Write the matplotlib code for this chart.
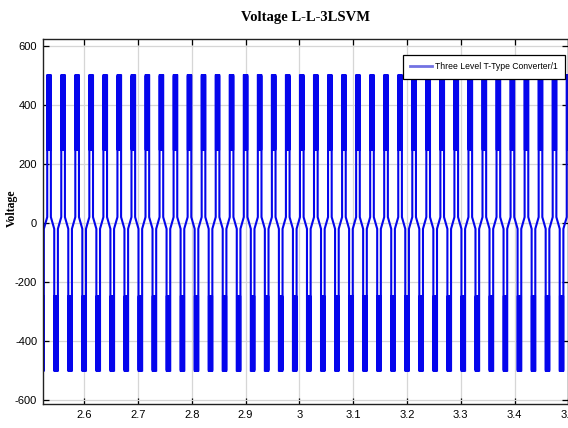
import numpy as np
import matplotlib
matplotlib.use("Agg")
import matplotlib.pyplot as plt
from matplotlib import font_manager

# ---------------- data ----------------
title_text = "Voltage L-L-3LSVM"
y_label = "Voltage"
legend_label = "Three Level T-Type Converter/1"

x_ticks = [2.6, 2.7, 2.8, 2.9, 3.0, 3.1, 3.2, 3.3, 3.4, 3.5]
x_tick_labels = ["2.6", "2.7", "2.8", "2.9", "3", "3.1", "3.2", "3.3", "3.4", "3.5"]
y_ticks = [600, 400, 200, 0, -200, -400, -600]
y_tick_labels = ["600", "400", "200", "0", "-200", "-400", "-600"]

# one fundamental period of the line-to-line voltage as (time in ms, volts)
# vertices, measured from the start of the positive pulse
period_ms = 26.1
period_t_ms = [0.0, 0.0,
               0.0, 0.45, 0.45, 0.9, 0.9, 1.35, 1.35, 1.8, 1.8, 2.25, 2.25, 2.7, 2.7,
               3.15, 3.15, 3.6, 3.6, 4.05, 4.05, 4.5, 4.5, 4.95, 4.95, 5.4, 5.4, 5.85, 5.85,
               6.3, 6.3, 6.8, 6.8,
               13.05, 13.05,
               13.05, 13.5, 13.5, 13.95, 13.95, 14.4, 14.4, 14.85, 14.85, 15.3, 15.3, 15.75, 15.75,
               16.2, 16.2, 16.65, 16.65, 17.1, 17.1, 17.55, 17.55, 18.0, 18.0, 18.45, 18.45,
               18.9, 18.9, 19.35, 19.35, 19.85, 19.85]
period_v = [20, 250,
            500, 500, 250, 250, 500, 500, 250, 250, 500, 500, 250, 250, 500,
            500, 250, 250, 500, 500, 250, 250, 500, 500, 250, 250, 500, 500, 250,
            250, 500, 500, 20,
            -20, -250,
            -500, -500, -250, -250, -500, -500, -250, -250, -500, -500, -250, -250, -500,
            -500, -250, -250, -500, -500, -250, -250, -500, -500, -250, -250, -500,
            -500, -250, -250, -500, -500, -20]
first_pulse_s = 2.5053   # start of the first positive pulse drawn (just left of the axes)
n_periods = 40
x_range = (2.523, 3.5)
y_range = (-614, 624)

# ---------------- build waveform from the repeated period ----------------
starts = first_pulse_s + np.arange(n_periods) * period_ms / 1000.0
t = (starts[:, None] + np.asarray(period_t_ms)[None, :] / 1000.0).ravel()
v = np.tile(np.asarray(period_v, dtype=float), n_periods)

# ---------------- fonts ----------------
avail = {f.name for f in font_manager.fontManager.ttflist}
narrow = "Liberation Sans Narrow" if "Liberation Sans Narrow" in avail else "Liberation Sans"
serif = "Liberation Serif"

# ---------------- figure ----------------
fig = plt.figure(figsize=(5.68, 4.28), dpi=100)
W, H = 568.0, 428.0
left_px, right_px, top_px, bottom_px = 42.7, 568.3, 39.0, 404.0
ax = fig.add_axes([left_px / W, 1 - bottom_px / H, (right_px - left_px) / W, (bottom_px - top_px) / H])

line, = ax.plot(t, v, color="#0505ec", lw=1.5, solid_joinstyle="miter")

ax.set_xlim(*x_range)
ax.set_ylim(*y_range)
ax.set_xticks(x_ticks)
ax.set_xticklabels(x_tick_labels)
ax.set_yticks(y_ticks)
ax.set_yticklabels(y_tick_labels)
ax.grid(True, color="#d6d6d6", lw=0.9)
ax.set_axisbelow(True)
ax.tick_params(direction="in", length=4, width=0.9, top=True, right=True,
               labelsize=8, pad=4, colors="black")
for lab in ax.get_xticklabels() + ax.get_yticklabels():
    lab.set_fontfamily(narrow)
for sp in ax.spines.values():
    sp.set_linewidth(1.0)
    sp.set_color("#222222")

fig.text((left_px + right_px) / 2 / W, 1 - 17 / H, title_text, ha="center", va="center",
         fontsize=10.5, fontweight="bold", family=serif)
fig.text(12 / W, 1 - 208 / H, y_label, ha="center", va="center", rotation=90,
         fontsize=8.5, fontweight="bold", family=serif)

leg = ax.legend([line], [legend_label], loc="upper right",
                bbox_to_anchor=(1.0 - 3 / (right_px - left_px), 1 - 16 / (bottom_px - top_px)),
                fancybox=False, framealpha=1, edgecolor="black", handlelength=2.5,
                borderpad=0.85, handletextpad=0.4, borderaxespad=0,
                prop={"family": narrow, "size": 6.2})
leg.get_frame().set_linewidth(0.9)
leg.get_lines()[0].set_color("#7272e2")
leg.get_lines()[0].set_linewidth(2.0)

fig.savefig("out.png", dpi=100)
